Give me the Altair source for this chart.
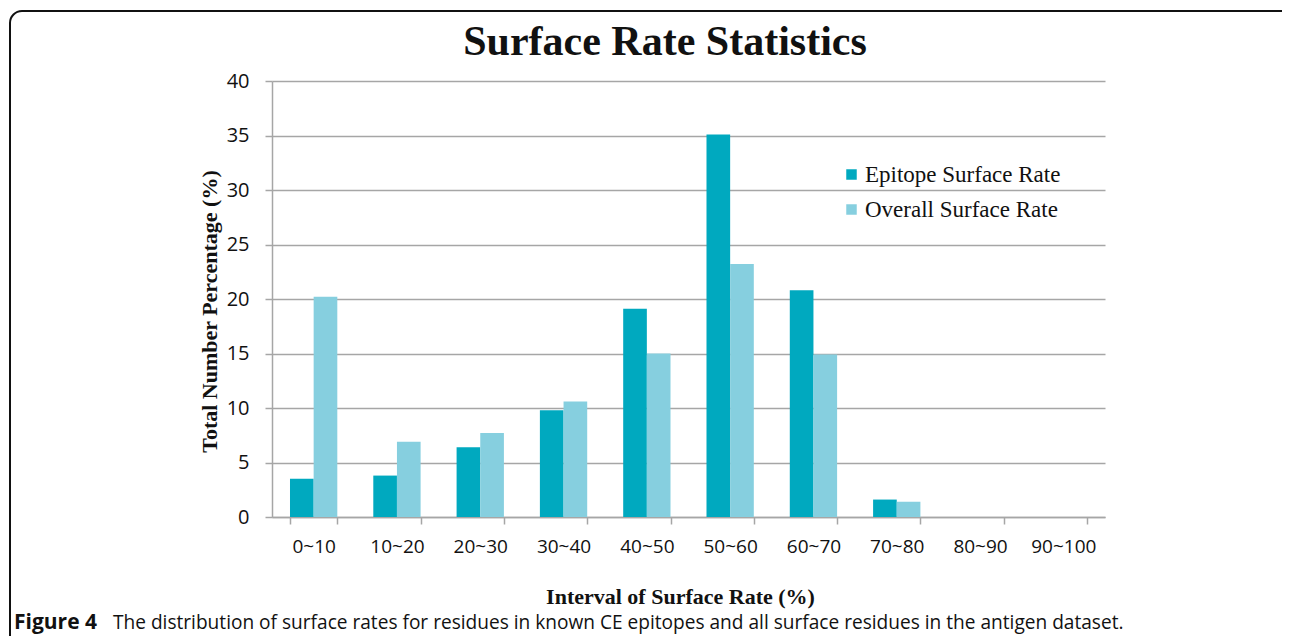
import altair as alt
import pandas as pd

categories = ["0~10", "10~20", "20~30", "30~40", "40~50", "50~60", "60~70", "70~80", "80~90", "90~100"]
epitope = [3.5, 3.8, 6.4, 9.8, 19.1, 35.1, 20.8, 1.6, 0, 0]
overall = [20.2, 6.9, 7.7, 10.6, 15.0, 23.2, 14.9, 1.4, 0, 0]
series = ["Epitope Surface Rate", "Overall Surface Rate"]
colors = ["#00A9BF", "#86CFDF"]

rows = []
for c, e, o in zip(categories, epitope, overall):
    rows.append({"cat": c, "series": series[0], "value": e})
    rows.append({"cat": c, "series": series[1], "value": o})
df = pd.DataFrame(rows)

W, H = 833, 436
GRID = "#A6A6A6"

bars = alt.Chart(df).mark_bar().encode(
    x=alt.X("cat:N", sort=categories,
            scale=alt.Scale(paddingInner=0.432, paddingOuter=0.216),
            axis=alt.Axis(title="Interval of Surface Rate (%)", labelAngle=0,
                          tickBand="extent", tickSize=7, tickColor=GRID, tickWidth=1.5,
                          domainColor=GRID, domainWidth=1.5,
                          labelFont="Open Sans", labelFontSize=19, labelColor="#111",
                          labelPadding=13,
                          titleFont="Liberation Serif", titleFontSize=22, titleFontWeight="bold",
                          titleColor="#111", titleX=408, titleY=86, titleBaseline="alphabetic",
                          titleAnchor="start", titleAlign="center")),
    xOffset=alt.XOffset("series:N", sort=series),
    y=alt.Y("value:Q", scale=alt.Scale(domain=[0, 40], nice=False),
            axis=alt.Axis(title="Total Number Percentage (%)", values=[0, 5, 10, 15, 20, 25, 30, 35, 40],
                          grid=True, gridColor=GRID, gridWidth=1.5,
                          tickSize=7, tickColor=GRID, tickWidth=1.5,
                          domainColor=GRID, domainWidth=1.5,
                          labelFont="Open Sans", labelFontSize=20, labelColor="#111",
                          labelPadding=16,
                          titleFont="Liberation Serif", titleFontSize=22, titleFontWeight="bold",
                          titleColor="#111", titleX=-56, titleY=230, titleAngle=270,
                          titleBaseline="alphabetic", titleAlign="center", titleAnchor="start")),
    color=alt.Color("series:N", sort=series,
                    scale=alt.Scale(domain=series, range=colors),
                    legend=alt.Legend(title=None, orient="none", legendX=568, legendY=82,
                                      symbolType="square", symbolSize=110, symbolStrokeWidth=0,
                                      labelFont="Liberation Serif", labelFontSize=23,
                                      labelColor="#111", rowPadding=11, labelOffset=2,
                                      labelLimit=0, padding=0)),
)

deco = pd.DataFrame({"k": [0]})

border = alt.Chart(deco).mark_rect(fill=None, stroke="#111", strokeWidth=2, cornerRadius=12).encode(
    x=alt.value(-262), x2=alt.value(W + 250), y=alt.value(-70), y2=alt.value(H + 250)
)

title = alt.Chart(deco).mark_text(text="Surface Rate Statistics", font="Liberation Serif",
                                  fontSize=42, fontWeight="bold", color="#111",
                                  align="center", baseline="alphabetic").encode(
    x=alt.value(393), y=alt.value(-26)
)

cap1 = alt.Chart(deco).mark_text(text="Figure 4", font="Liberation Sans Narrow, Open Sans",
                                 fontSize=21, fontWeight="bold", color="#111",
                                 align="left", baseline="alphabetic").encode(
    x=alt.value(-258), y=alt.value(548)
)
cap2 = alt.Chart(deco).mark_text(
    text="The distribution of surface rates for residues in known CE epitopes and all surface residues in the antigen dataset.",
    font="Liberation Sans Narrow, Open Sans", fontSize=19.1, color="#111",
    align="left", baseline="alphabetic").encode(
    x=alt.value(-159), y=alt.value(548)
)

chart = alt.layer(border, bars, title, cap1, cap2).properties(
    width=W, height=H,
    autosize=alt.AutoSizeParams(type="none"),
    padding={"left": 264, "top": 73, "right": 177, "bottom": 119},
).configure_view(stroke=None).configure_axis(gridColor=GRID)

chart.save("out.html", embed_options={"renderer": "svg", "actions": False})
